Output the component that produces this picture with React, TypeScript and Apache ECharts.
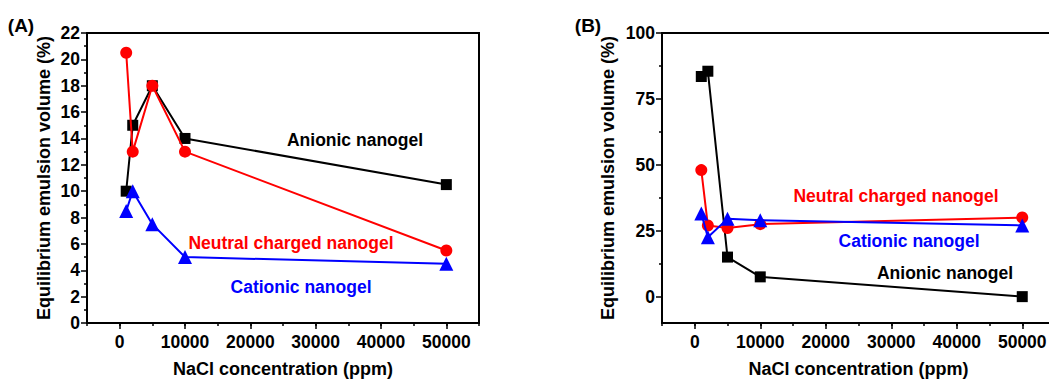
import React, { useEffect, useRef } from "react";
import * as echarts from "echarts";

// ---- data ----
const naclPpm = [1000, 2000, 5000, 10000, 50000];

const anionicA = [10, 15, 18, 14, 10.5];
const neutralA = [20.5, 13, 18, 13, 5.5];
const cationicA = [8.5, 10, 7.5, 5, 4.5];

const anionicB = [83.5, 85.5, 15, 7.5, 0];
const neutralB = [48, 27, 26, 27.5, 30];
const cationicB = [31.5, 22.5, 29.5, 29, 27];

const xMajorTicks = [0, 10000, 20000, 30000, 40000, 50000];
const yMajorTicksB = [0, 25, 50, 75, 100];
const yMinorTicksB = [12.5, 37.5, 62.5, 87.5];

const seriesNames = ["Anionic nanogel", "Neutral charged nanogel", "Cationic nanogel"];

const FONT = "'Liberation Sans', Arial, sans-serif";
const BLACK = "#000000";
const RED = "#ff0000";
const BLUE = "#0000ff";

const pairs = (ys: number[]) => naclPpm.map((x, i) => [x, ys[i]]);

const tickLabelStyle = {
  color: BLACK,
  fontFamily: FONT,
  fontWeight: "bold" as const,
  fontSize: 17.5,
};
const nameStyle = {
  color: BLACK,
  fontFamily: FONT,
  fontWeight: "bold" as const,
  fontSize: 18,
};

function mainXAxis(gridIndex: number) {
  return {
    type: "value",
    gridIndex,
    min: -5000,
    max: 55000,
    interval: 5000,
    splitLine: { show: false },
    axisLine: { show: true, onZero: false, lineStyle: { color: BLACK, width: 2 } },
    axisTick: { show: true, inside: false, length: 3, lineStyle: { color: BLACK, width: 1.5 } },
    axisLabel: {
      ...tickLabelStyle,
      margin: 10,
      showMinLabel: true,
      showMaxLabel: true,
      formatter: (v: number) => (v >= 0 && v % 10000 === 0 ? String(v) : ""),
    },
    name: "NaCl concentration (ppm)",
    nameLocation: "middle",
    nameGap: 37,
    nameTextStyle: nameStyle,
  };
}

function overlayXAxis(gridIndex: number) {
  return {
    type: "value",
    gridIndex,
    min: -5000,
    max: 55000,
    position: "bottom",
    splitLine: { show: false },
    axisLine: { show: false, onZero: false },
    axisTick: {
      show: true,
      inside: false,
      length: 6,
      customValues: xMajorTicks,
      lineStyle: { color: BLACK, width: 1.5 },
    },
    axisLabel: { show: false },
  };
}

function lineSeries(
  name: string,
  data: number[],
  color: string,
  symbol: string,
  size: number,
  xAxisIndex: number,
  yAxisIndex: number,
  z: number
) {
  return {
    type: "line",
    name,
    data: pairs(data),
    xAxisIndex,
    yAxisIndex,
    symbol,
    symbolSize: size,
    showAllSymbol: true,
    z,
    lineStyle: { color, width: 2 },
    itemStyle: { color, borderWidth: 0 },
    emphasis: { disabled: true },
  };
}

function label(text: string, x: number, y: number, color: string, size = 17.5) {
  return {
    type: "text",
    x,
    y,
    style: {
      text,
      fill: color,
      fontFamily: FONT,
      fontWeight: "bold",
      fontSize: size,
      align: "center",
      verticalAlign: "middle",
    },
  };
}

function buildOption() {
  return {
    animation: false,
    backgroundColor: "#ffffff",
    grid: [
      { left: 87, top: 33, width: 392, height: 292, show: true, borderColor: BLACK, borderWidth: 2, containLabel: false },
      { left: 662, top: 33, width: 393, height: 292, show: true, borderColor: BLACK, borderWidth: 2, containLabel: false },
    ],
    xAxis: [mainXAxis(0), overlayXAxis(0), mainXAxis(1), overlayXAxis(1)],
    yAxis: [
      {
        type: "value",
        gridIndex: 0,
        position: "left",
        min: 0,
        max: 22,
        interval: 2,
        splitLine: { show: false },
        axisLine: { show: true, onZero: false, lineStyle: { color: BLACK, width: 2 } },
        axisTick: { show: true, inside: false, length: 6, lineStyle: { color: BLACK, width: 1.5 } },
        minorTick: { show: true, splitNumber: 2, length: 3, lineStyle: { color: BLACK, width: 1.5 } },
        axisLabel: { ...tickLabelStyle, margin: 7 },
        name: "Equilibrium emulsion volume (%)",
        nameLocation: "middle",
        nameGap: 34,
        nameTextStyle: nameStyle,
      },
      {
        type: "value",
        gridIndex: 1,
        position: "left",
        min: -10,
        max: 100,
        splitLine: { show: false },
        axisLine: { show: true, onZero: false, lineStyle: { color: BLACK, width: 2 } },
        axisTick: {
          show: true,
          inside: false,
          length: 6,
          customValues: yMajorTicksB,
          lineStyle: { color: BLACK, width: 1.5 },
        },
        axisLabel: { ...tickLabelStyle, margin: 7, customValues: yMajorTicksB },
        name: "Equilibrium emulsion volume (%)",
        nameLocation: "middle",
        nameGap: 45,
        nameTextStyle: nameStyle,
      },
      {
        type: "value",
        gridIndex: 1,
        position: "left",
        offset: 0,
        min: -10,
        max: 100,
        splitLine: { show: false },
        axisLine: { show: false, onZero: false },
        axisTick: {
          show: true,
          inside: false,
          length: 3,
          customValues: yMinorTicksB,
          lineStyle: { color: BLACK, width: 1.5 },
        },
        axisLabel: { show: false },
      },
    ],
    series: [
      lineSeries(seriesNames[0], anionicA, BLACK, "rect", 11, 0, 0, 2),
      lineSeries(seriesNames[1], neutralA, RED, "circle", 12, 0, 0, 3),
      lineSeries(seriesNames[2], cationicA, BLUE, "triangle", 14, 0, 0, 4),
      lineSeries(seriesNames[0], anionicB, BLACK, "rect", 11, 2, 1, 2),
      lineSeries(seriesNames[1], neutralB, RED, "circle", 12, 2, 1, 3),
      lineSeries(seriesNames[2], cationicB, BLUE, "triangle", 14, 2, 1, 4),
    ],
    graphic: [
      label("(A)", 21, 25, BLACK, 19),
      label("(B)", 588, 25, BLACK, 19),
      label(seriesNames[0], 355, 140, BLACK),
      label(seriesNames[1], 291, 243, RED),
      label(seriesNames[2], 301, 287, BLUE),
      label(seriesNames[1], 896, 196, RED),
      label(seriesNames[2], 909, 241, BLUE),
      label(seriesNames[0], 945, 273, BLACK),
    ],
  };
}

export default function App() {
  const ref = useRef<HTMLDivElement>(null);
  useEffect(() => {
    if (!ref.current) return;
    const chart = echarts.init(ref.current, null, { renderer: "svg" });
    chart.setOption(buildOption() as any);
    return () => chart.dispose();
  }, []);
  return (
    <div
      ref={ref}
      style={{ position: "fixed", left: 0, top: 0, width: 1062, height: 383, background: "#ffffff" }}
    />
  );
}
